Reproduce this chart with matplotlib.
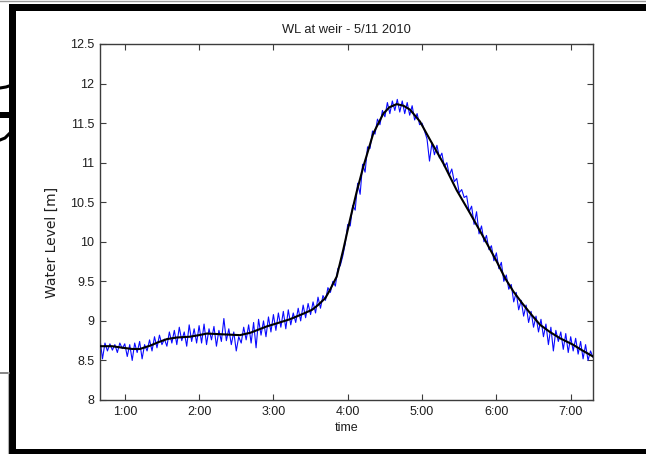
import numpy as np
import matplotlib
matplotlib.use("Agg")
import matplotlib.pyplot as plt
from matplotlib.patches import Rectangle
from matplotlib.lines import Line2D

# ---------------- data ----------------
# smooth (black) curve: time in hours, water level in m
smooth_t = [0.667, 0.83, 0.976, 1.10, 1.205, 1.35, 1.45, 1.568, 1.70, 1.877, 2.0,
            2.106, 2.32, 2.55, 2.69, 2.80, 2.91, 3.05, 3.22, 3.40, 3.52, 3.60, 3.70,
            3.76, 3.852, 3.94, 4.031, 4.12, 4.21, 4.344, 4.479, 4.56, 4.659, 4.75,
            4.838, 4.972, 5.107, 5.287, 5.467, 5.646, 5.825, 6.005, 6.117, 6.23,
            6.35, 6.47, 6.588, 6.72, 6.857, 7.03, 7.15, 7.30]
smooth_wl = [8.68, 8.68, 8.66, 8.645, 8.645, 8.69, 8.73, 8.77, 8.79, 8.80, 8.82,
             8.84, 8.83, 8.82, 8.85, 8.89, 8.93, 8.97, 9.02, 9.09, 9.14, 9.20, 9.29,
             9.39, 9.56, 9.90, 10.28, 10.63, 10.95, 11.37, 11.62, 11.70, 11.74, 11.72,
             11.67, 11.52, 11.29, 10.99, 10.65, 10.36, 10.06, 9.75, 9.54, 9.37,
             9.22, 9.08, 8.95, 8.86, 8.78, 8.70, 8.63, 8.55]

# raw measured (blue) series, regularly sampled between t_start and t_end
raw_t_start = 0.667
raw_t_end = 7.30
raw_wl = [
    8.77, 8.52, 8.72, 8.62, 8.71, 8.63, 8.70, 8.60, 8.72, 8.65,
    8.71, 8.55, 8.70, 8.50, 8.72, 8.60, 8.74, 8.52, 8.70, 8.62,
    8.76, 8.62, 8.80, 8.66, 8.82, 8.70, 8.77, 8.68, 8.86, 8.72,
    8.88, 8.70, 8.92, 8.75, 8.86, 8.68, 8.95, 8.74, 8.90, 8.72,
    8.94, 8.72, 8.96, 8.70, 8.90, 8.76, 8.93, 8.68, 8.88, 8.74,
    9.03, 8.75, 8.90, 8.70, 8.86, 8.62, 8.80, 8.72, 8.92, 8.76,
    8.95, 8.72, 8.98, 8.66, 9.02, 8.82, 9.00, 8.80, 9.05, 8.86,
    9.08, 8.88, 9.10, 8.92, 9.12, 8.90, 9.14, 8.95, 9.10, 8.98,
    9.16, 9.00, 9.20, 9.04, 9.22, 9.08, 9.24, 9.10, 9.30, 9.16,
    9.32, 9.26, 9.42, 9.36, 9.50, 9.44, 9.66, 9.70, 9.82, 9.98,
    10.22, 10.20, 10.46, 10.40, 10.74, 10.60, 10.98, 10.88, 11.20, 11.18,
    11.40, 11.36, 11.55, 11.48, 11.66, 11.58, 11.76, 11.62, 11.78, 11.66,
    11.80, 11.64, 11.78, 11.62, 11.76, 11.60, 11.72, 11.54, 11.62, 11.48,
    11.50, 11.40, 11.30, 11.02, 11.25, 11.10, 11.22, 11.06, 11.12, 10.95,
    11.00, 10.84, 10.92, 10.76, 10.80, 10.62, 10.66, 10.56, 10.58, 10.38,
    10.45, 10.22, 10.38, 10.10, 10.20, 10.00, 10.08, 9.90, 9.95, 9.76,
    9.86, 9.66, 9.74, 9.50, 9.58, 9.40, 9.46, 9.24, 9.36, 9.14,
    9.26, 9.06, 9.20, 8.98, 9.12, 8.92, 9.06, 8.86, 9.02, 8.80,
    8.96, 8.70, 8.92, 8.62, 8.88, 8.74, 8.86, 8.64, 8.84, 8.60,
    8.80, 8.62, 8.78, 8.58, 8.74, 8.52, 8.70, 8.50, 8.62, 8.54,
]

x_ticks = [1, 2, 3, 4, 5, 6, 7]
x_tick_labels = ["1:00", "2:00", "3:00", "4:00", "5:00", "6:00", "7:00"]
y_ticks = [8, 8.5, 9, 9.5, 10, 10.5, 11, 11.5, 12, 12.5]
y_tick_labels = ["8", "8.5", "9", "9.5", "10", "10.5", "11", "11.5", "12", "12.5"]

title = "WL at weir - 5/11 2010"
xlabel = "time"
ylabel = "Water Level [m]"

# ---------------- figure ----------------
plt.rcParams['font.family'] = ['Liberation Sans', 'DejaVu Sans']
W, H = 646, 454
fig = plt.figure(figsize=(W / 100, H / 100), dpi=100)
fig.patch.set_facecolor("white")

def fx(px):
    return px / W

def fy(py):
    return 1 - py / H

# slide frame decorations (figure coords from pixel positions)
fig.add_artist(Rectangle((fx(9), fy(11)), fx(646 - 9), 7 / H, transform=fig.transFigure,
                         facecolor="black", edgecolor="none"))
fig.add_artist(Rectangle((fx(9), fy(454)), 7 / W, (454 - 4) / H, transform=fig.transFigure,
                         facecolor="black", edgecolor="none"))
fig.add_artist(Rectangle((fx(9), fy(454)), fx(646 - 9), 5 / H, transform=fig.transFigure,
                         facecolor="black", edgecolor="none"))
fig.add_artist(Line2D([0, 1], [fy(1), fy(1)], transform=fig.transFigure, color="#9a9a9a", lw=1))
# partial glyph at the far left
fig.add_artist(Rectangle((0, fy(118)), fx(9), 6 / H, transform=fig.transFigure,
                         facecolor="black", edgecolor="none"))
fig.add_artist(Line2D([0, fx(6), fx(9)], [fy(88), fy(87), fy(86)], transform=fig.transFigure,
                      color="black", lw=2.2))
fig.add_artist(Line2D([0, fx(5), fx(9)], [fy(140), fy(138), fy(134)], transform=fig.transFigure,
                      color="black", lw=2.2))
fig.add_artist(Line2D([0, fx(9)], [fy(372.5), fy(372.5)], transform=fig.transFigure,
                      color="#707070", lw=1.2))
fig.add_artist(Line2D([fx(8.3), fx(8.3)], [fy(372), fy(454)], transform=fig.transFigure,
                      color="#b0b0b0", lw=0.8))

ax = fig.add_axes([fx(100), fy(400), fx(593 - 100), (400 - 44) / H])

raw_t = np.linspace(raw_t_start, raw_t_end, len(raw_wl))
ax.plot(raw_t, raw_wl, color="#0a0aff", lw=0.8, zorder=2)
ax.plot(smooth_t, smooth_wl, color="black", lw=1.5, zorder=3)

ax.set_xlim(0.667, 7.30)
ax.set_ylim(8, 12.5)
ax.set_xticks(x_ticks)
ax.set_xticklabels(x_tick_labels)
ax.set_yticks(y_ticks)
ax.set_yticklabels(y_tick_labels)

spine_c = "#3c3c3c"
text_c = "#1e1e1e"
for s in ax.spines.values():
    s.set_color(spine_c)
    s.set_linewidth(1.0)
ax.tick_params(direction="in", length=4, width=0.8, color=spine_c, top=True, right=True,
               labelsize=9, labelcolor=text_c, pad=4)

ax.set_title(title, fontsize=9.3, color=text_c, pad=8)
ax.set_xlabel(xlabel, fontsize=9, color=text_c, labelpad=3)
ax.set_ylabel(ylabel, fontsize=10, color=text_c, family=['DejaVu Sans'])
ax.yaxis.set_label_coords((59 - 100) / 493, (400 - 242) / 356)

fig.savefig("out.png", dpi=100, facecolor="white")
